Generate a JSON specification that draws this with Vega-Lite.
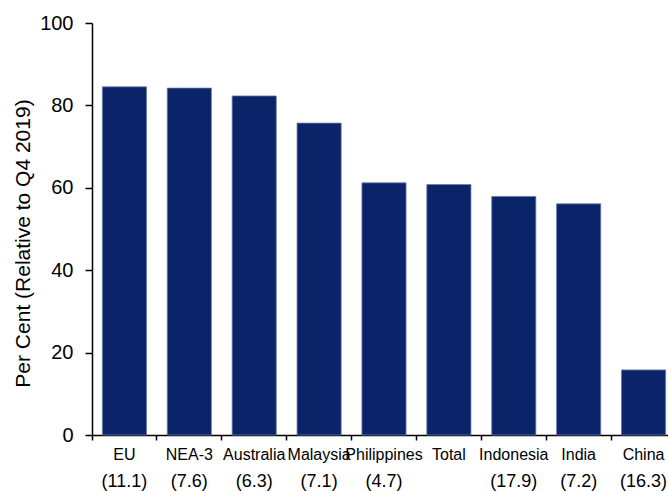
{
  "$schema": "https://vega.github.io/schema/vega-lite/v6.json",
  "width": 576,
  "height": 412,
  "autosize": "none",
  "padding": {"left": 92, "top": 23, "right": 0, "bottom": 56},
  "data": {
    "values": [
      {"country": "EU (11.1)", "value": 84.5},
      {"country": "NEA-3 (7.6)", "value": 84.2},
      {"country": "Australia (6.3)", "value": 82.3},
      {"country": "Malaysia (7.1)", "value": 75.7},
      {"country": "Philippines (4.7)", "value": 61.2},
      {"country": "Total", "value": 60.8},
      {"country": "Indonesia (17.9)", "value": 57.9},
      {"country": "India (7.2)", "value": 56.1},
      {"country": "China (16.3)", "value": 15.8}
    ]
  },
  "encoding": {
    "y": {
      "field": "value",
      "type": "quantitative",
      "scale": {"domain": [0, 100], "nice": false},
      "axis": {
        "values": [0, 20, 40, 60, 80, 100],
        "grid": false,
        "labelFontSize": 20,
        "labelPadding": 12,
        "tickSize": 7,
        "title": "Per Cent (Relative to Q4 2019)",
        "titleFontSize": 21,
        "titleFontWeight": "normal",
        "titleAngle": 270,
        "titleBaseline": "alphabetic",
        "titleAlign": "center",
        "titleX": -63,
        "titleY": 220
      }
    }
  },
  "layer": [
    {
      "mark": {"type": "bar", "width": {"band": 0.68}, "fill": "#0B2469", "stroke": "#6A7BAA", "strokeWidth": 0.8},
      "encoding": {
        "x": {
          "field": "country",
          "type": "nominal",
          "sort": null,
          "scale": {"range": [0, 584], "paddingInner": 0, "paddingOuter": 0},
          "axis": {
            "orient": "bottom",
            "title": null,
            "labelAngle": 0,
            "bandPosition": 0,
            "tickSize": 5,
            "labelPadding": 6,
            "labelFontSize": 16,
            "labelBaseline": "top",
            "labelAlign": "center",
            "labelOverlap": false,
            "labelBound": false,
            "labelExpr": "split(datum.value, ' (')[0]"
          }
        }
      }
    },
    {
      "mark": {"type": "bar", "width": {"band": 0.68}, "opacity": 0},
      "encoding": {
        "x": {
          "field": "country",
          "type": "nominal",
          "sort": null,
          "scale": {"range": [0, 584], "paddingInner": 0, "paddingOuter": 0},
          "axis": {
            "orient": "bottom",
            "title": null,
            "domain": false,
            "ticks": false,
            "tickSize": 0,
            "labelAngle": 0,
            "labelPadding": 37,
            "labelFontSize": 18,
            "labelBaseline": "top",
            "labelAlign": "center",
            "labelOverlap": false,
            "labelBound": false,
            "labelExpr": "indexof(datum.value, '(') >= 0 ? substring(datum.value, indexof(datum.value, '(')) : ''"
          }
        }
      }
    }
  ],
  "resolve": {"axis": {"x": "independent"}},
  "config": {
    "view": {"stroke": null},
    "font": "Liberation Sans",
    "axis": {
      "domainColor": "#000000",
      "tickColor": "#000000",
      "labelColor": "#000000",
      "titleColor": "#000000",
      "domainWidth": 1.5,
      "tickWidth": 1.5
    }
  }
}
